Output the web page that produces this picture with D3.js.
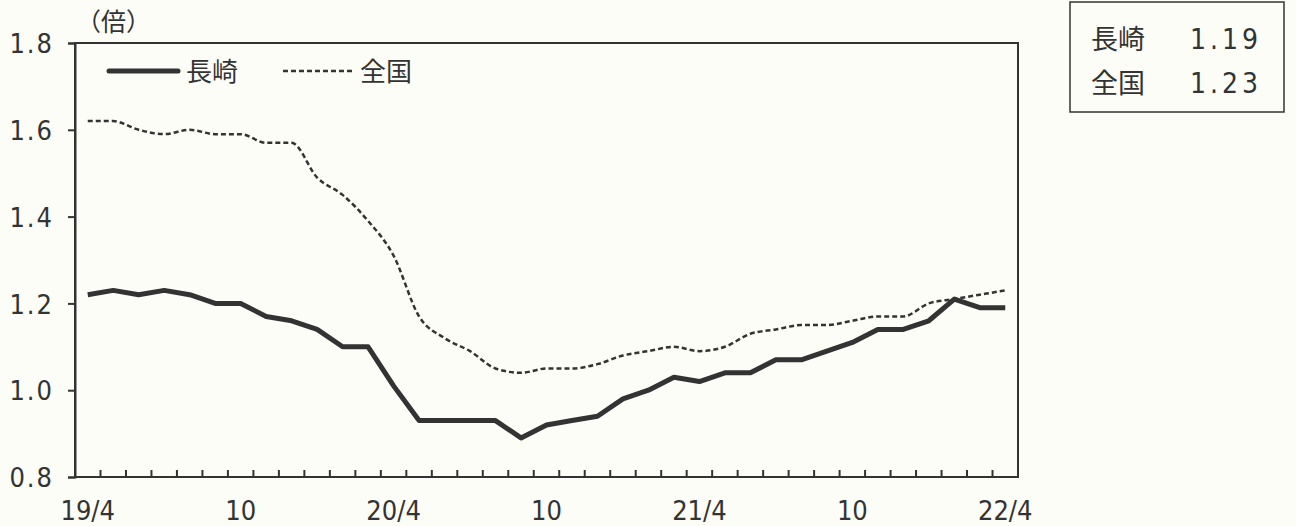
<!DOCTYPE html>
<html>
<head>
<meta charset="utf-8">
<script src="https://cdn.jsdelivr.net/npm/d3@7"></script>
<style>
	body { margin: 0; background: #fdfdf8; }
	svg { display: block; }
	.num { font-family: "Liberation Sans Narrow", "DejaVu Sans Condensed", "Noto Sans CJK JP", sans-serif; fill: #333; }
	.jp { font-family: "Noto Sans CJK JP", sans-serif; fill: #333; }
</style>
</head>
<body>
<div id="vis"></div>
<script>
const width = 1296;
const height = 526;

// months 19/4 .. 22/4
const months = ["19/4","19/5","19/6","19/7","19/8","19/9","19/10","19/11","19/12","20/1","20/2","20/3",
	"20/4","20/5","20/6","20/7","20/8","20/9","20/10","20/11","20/12","21/1","21/2","21/3",
	"21/4","21/5","21/6","21/7","21/8","21/9","21/10","21/11","21/12","22/1","22/2","22/3","22/4"];
const nagasaki = [1.22,1.23,1.22,1.23,1.22,1.20,1.20,1.17,1.16,1.14,1.10,1.10,
	1.01,0.93,0.93,0.93,0.93,0.89,0.92,0.93,0.94,0.98,1.00,1.03,
	1.02,1.04,1.04,1.07,1.07,1.09,1.11,1.14,1.14,1.16,1.21,1.19,1.19];
const zenkoku = [1.62,1.62,1.60,1.59,1.60,1.59,1.59,1.57,1.57,1.49,1.45,1.39,
	1.31,1.17,1.12,1.09,1.05,1.04,1.05,1.05,1.06,1.08,1.09,1.10,
	1.09,1.10,1.13,1.14,1.15,1.15,1.16,1.17,1.17,1.20,1.21,1.22,1.23];
const xLabels = {"19/4":"19/4","19/10":"10","20/4":"20/4","20/10":"10","21/4":"21/4","21/10":"10","22/4":"22/4"};
const yTicks = [0.8,1.0,1.2,1.4,1.6,1.8];
const latest = [["長崎","1.19"],["全国","1.23"]];

const plot = {left: 75, right: 1018, top: 43, bottom: 477};
const ink = "#333";

const svg = d3.select("div#vis")
	.append("svg")
		.attr("width", width)
		.attr("height", height);

const x = d3.scaleBand()
	.domain(months)
	.range([plot.left, plot.right]);

const y = d3.scaleLinear()
	.domain([0.8, 1.8])
	.range([plot.bottom, plot.top]);

// frame
svg.append("rect")
	.attr("x", plot.left).attr("y", plot.top)
	.attr("width", plot.right - plot.left).attr("height", plot.bottom - plot.top)
	.attr("fill", "none").attr("stroke", ink).attr("stroke-width", 2);

// y axis
const yAxis = svg.append("g")
	.attr("transform", `translate(${plot.left},0)`)
	.call(d3.axisLeft(y).tickValues(yTicks).tickSize(7).tickFormat(d3.format(".1f")));
yAxis.select(".domain").attr("stroke", ink).attr("stroke-width", 2);
yAxis.selectAll(".tick line").attr("stroke", ink).attr("stroke-width", 2);
yAxis.selectAll(".tick text")
	.attr("class", "num")
	.attr("x", -21)
	.attr("dy", "0.36em")
	.attr("font-size", 27)
	.attr("letter-spacing", 2);

// x axis: ticks at month boundaries, pointing in
const bounds = months.slice(1).map(m => x(m));
svg.append("g")
	.selectAll("line")
	.data(bounds)
	.enter()
	.append("line")
		.attr("x1", d => d).attr("x2", d => d)
		.attr("y1", plot.bottom).attr("y2", plot.bottom - 7)
		.attr("stroke", ink).attr("stroke-width", 2);

svg.append("g")
	.selectAll("text")
	.data(months.filter(m => xLabels[m]))
	.enter()
	.append("text")
		.attr("class", "num")
		.attr("x", d => x(d) + x.bandwidth() / 2)
		.attr("y", 520)
		.attr("text-anchor", "middle")
		.attr("font-size", 27)
		.text(d => xLabels[d]);

// unit
svg.append("text")
	.attr("class", "jp")
	.attr("x", 76).attr("y", 31)
	.attr("font-size", 25)
	.text("（倍）");

// lines
const cx = (d, i) => x(months[i]) + x.bandwidth() / 2;

svg.append("path")
	.datum(zenkoku)
	.attr("fill", "none")
	.attr("stroke", ink)
	.attr("stroke-width", 2.5)
	.attr("stroke-dasharray", "5,3")
	.attr("d", d3.line().x(cx).y(d => y(d)).curve(d3.curveMonotoneX));

svg.append("path")
	.datum(nagasaki)
	.attr("fill", "none")
	.attr("stroke", ink)
	.attr("stroke-width", 5)
	.attr("stroke-linejoin", "round")
	.attr("d", d3.line().x(cx).y(d => y(d)));

// legend
const legend = svg.append("g");
legend.append("line")
	.attr("x1", 109).attr("x2", 178).attr("y1", 71).attr("y2", 71)
	.attr("stroke", ink).attr("stroke-width", 5).attr("stroke-linecap", "round");
legend.append("text")
	.attr("class", "jp").attr("x", 186).attr("y", 81).attr("font-size", 26)
	.text("長崎");
legend.append("line")
	.attr("x1", 283).attr("x2", 353).attr("y1", 71).attr("y2", 71)
	.attr("stroke", ink).attr("stroke-width", 2.5).attr("stroke-dasharray", "5,3");
legend.append("text")
	.attr("class", "jp").attr("x", 360).attr("y", 81).attr("font-size", 26)
	.text("全国");

// latest value box
const box = svg.append("g");
box.append("rect")
	.attr("x", 1070).attr("y", 2).attr("width", 214).attr("height", 110)
	.attr("fill", "none").attr("stroke", ink).attr("stroke-width", 1.5);
const rows = box.selectAll("g.row")
	.data(latest)
	.enter()
	.append("g")
		.attr("transform", (d, i) => `translate(0,${49 + i * 44})`);
rows.append("text")
	.attr("class", "jp").attr("x", 1091).attr("font-size", 27)
	.text(d => d[0]);
rows.append("text")
	.attr("class", "num").attr("x", 1262).attr("font-size", 28)
	.attr("text-anchor", "end").attr("letter-spacing", 4)
	.text(d => d[1]);
</script>
</body>
</html>
